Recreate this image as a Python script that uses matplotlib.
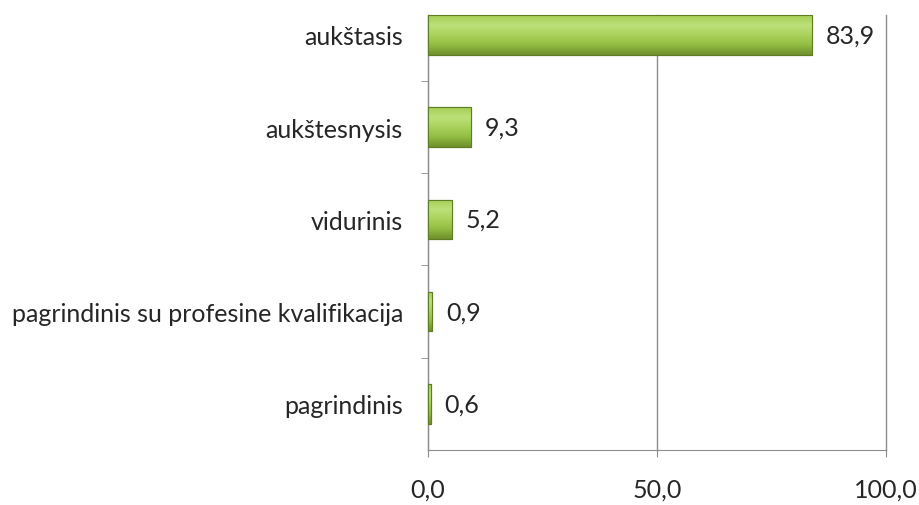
import matplotlib.pyplot as plt
import numpy as np
from matplotlib.colors import LinearSegmentedColormap

categories = ['pagrindinis', 'pagrindinis su profesine kvalifikacija', 'vidurinis',
              'aukštesnysis', 'aukštasis']
values = [0.6, 0.9, 5.2, 9.3, 83.9]
xticks = [0, 50, 100]

plt.rcParams['font.family'] = ['Lato', 'DejaVu Sans']

fig = plt.figure(figsize=(9.19, 5.06), dpi=100)
ax = fig.add_axes([0.4657, 0.1087, 0.4984, 0.8597])

pos = np.arange(len(categories))
h = 0.43
grey = '#8c8c8c'
txt = '#262626'
fs = 18

# green bevel-ish gradient
cmap = LinearSegmentedColormap.from_list('g', ['#6f8f2c', '#92bd42', '#a9d25c', '#bde07a', '#a6cf55'])
grad = np.linspace(0, 1, 64).reshape(-1, 1)

bars = ax.barh(pos, values, height=h, color='#9cc64a', edgecolor='#5e7d25', linewidth=0.8, zorder=3)
for b in bars:
    x0, y0 = b.get_x(), b.get_y()
    w, hh = b.get_width(), b.get_height()
    im = ax.imshow(grad, cmap=cmap, aspect='auto', extent=[x0, x0 + w, y0, y0 + hh],
                   origin='lower', zorder=3.5, interpolation='bicubic')
    im.set_clip_path(b)
    ax.barh(b.get_y() + hh / 2, w, height=hh, left=x0, fill=False,
            edgecolor='#5e7d25', linewidth=0.8, zorder=4, clip_on=False)

for p, v in zip(pos, values):
    ax.annotate(f'{v:.1f}'.replace('.', ','), (v, p), xytext=(10, 0), textcoords='offset points',
                va='center', ha='left', fontsize=fs, color=txt)

ax.set_xlim(0, 100)
ax.set_ylim(-0.5, 4.215)
ax.set_xticks(xticks)
ax.set_xticklabels([f'{t:.1f}'.replace('.', ',') for t in xticks], fontsize=fs, color=txt)
ax.set_yticks(pos)
ax.set_yticklabels(categories, fontsize=fs, color=txt)
ax.set_yticks(np.arange(0.5, 4, 1), minor=True)

ax.tick_params(axis='x', which='major', length=5, color=grey, pad=15, direction='out')
ax.tick_params(axis='y', which='major', length=0, pad=18)
ax.tick_params(axis='y', which='minor', length=5, color=grey)

ax.xaxis.grid(True, color=grey, linewidth=1, zorder=0)
for gl in ax.get_xgridlines():
    gl.set_clip_on(False)
for s in ['top', 'right']:
    ax.spines[s].set_visible(False)
for s in ['left', 'bottom']:
    ax.spines[s].set_color(grey)

fig.savefig('out.png', dpi=100)
